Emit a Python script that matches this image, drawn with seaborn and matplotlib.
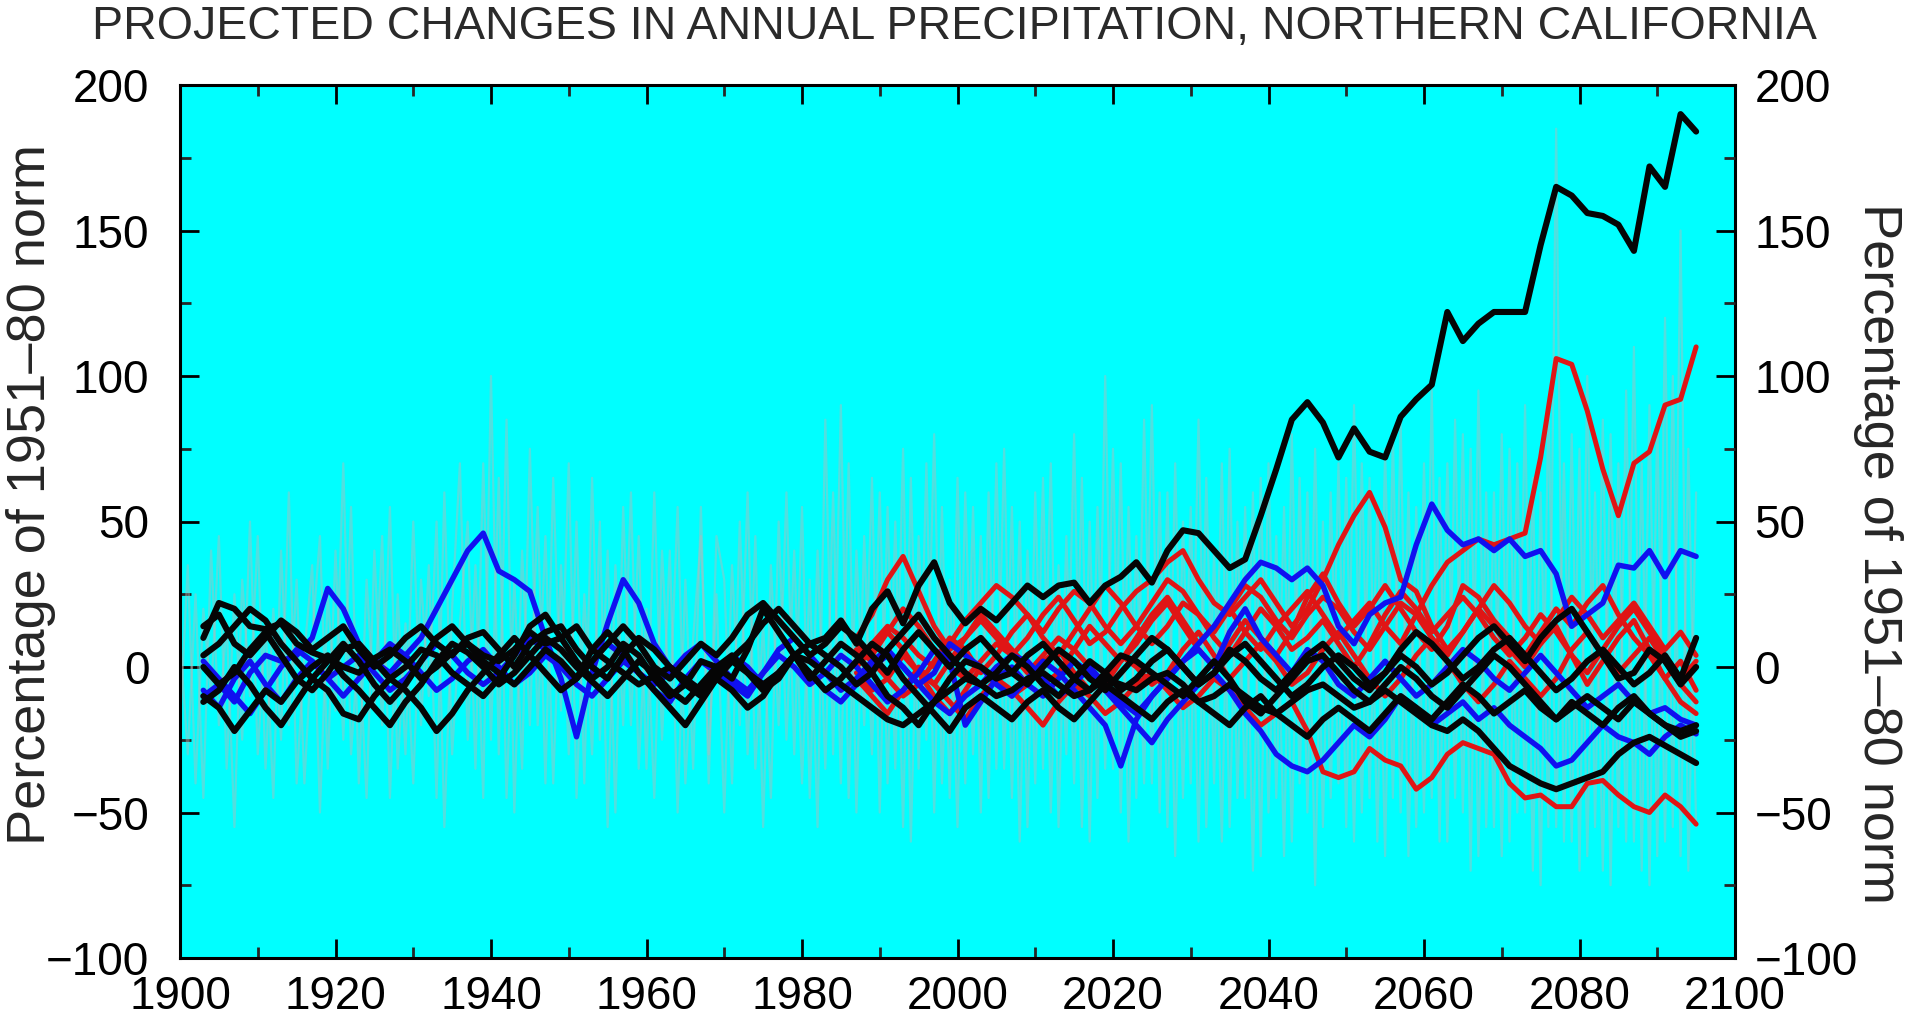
import numpy as np
import pandas as pd
import matplotlib
matplotlib.use("Agg")
import matplotlib.pyplot as plt
import seaborn as sns
from matplotlib.ticker import MultipleLocator

# ---------------- data ----------------
title = "PROJECTED CHANGES IN ANNUAL PRECIPITATION, NORTHERN CALIFORNIA"
ylabel = "Percentage of 1951\u201380 norm"

years_annual = list(range(1900, 2096))          # thin grey annual traces
years_hist = list(range(1903, 2096, 2))         # black / blue runs
years_proj = list(range(1987, 2096, 2))         # red runs

grey1 = [10, -30, 25, -45, 40, -20, 15, -55, 30, -10,
         45, -35, 20, -25, 60, -40, 5, 35, -50, 25,
         -15, 70, -30, 10, -45, 40, -20, 55, -35, 15,
         -40, 30, -10, 50, -55, 20, 70, -25, 35, -45,
         100, -30, 85, -50, 40, -20, 55, -40, 65, -15,
         70, -45, 25, -30, 50, -55, 35, -20, 60, -35,
         20, -45, 40, -15, 55, -40, 10, 45, -30, 25,
         -50, 35, -20, 60, -35, 15, -45, 50, -25, 40,
         -40, 30, -55, 85, -30, 90, -45, 40, -20, 65,
         -50, 55, -35, 75, -60, 45, -25, 80, -40, 30,
         -55, 60, -30, 45, -45, 70, -35, 55, -60, 40,
         -40, 65, -50, 35, -30, 80, -55, 50, -45, 100,
         -35, 70, -60, 45, -40, 90, -50, 60, -65, 50,
         -40, 85, -55, 40, -60, 75, -45, 55, -70, 65,
         -50, 45, -65, 80, -40, 60, -75, 50, -45, 70,
         -55, 90, -50, 65, -60, 75, -45, 85, -65, 55,
         -50, 95, -60, 70, -45, 80, -70, 95, -55, 60,
         -65, 75, -50, 90, -70, 60, -55, 185, -60, 80,
         -70, 100, -55, 85, -75, 70, -60, 110, -70, 90,
         -65, 120, -55, 150, -70, 60]
grey2 = [-20, 35, -40, 20, -10, 45, -35, 25, -25, 50,
         -30, 15, -45, 40, -20, 30, -40, 10, 45, -35,
         40, -25, 55, -40, 30, -15, 45, -45, 25, -30,
         50, -20, 35, -45, 60, -30, 15, 50, -35, 70,
         -25, 65, -45, 30, -35, 75, -20, 45, -40, 35,
         -30, 50, -40, 65, -25, 40, -50, 55, -20, 45,
         -35, 60, -25, 40, -50, 30, -35, 55, -40, 45,
         30, -40, 50, -30, 45, -55, 35, -20, 60, -30,
         55, -45, 40, -35, 60, -40, 70, -50, 45, -30,
         60, -40, 50, -55, 65, -35, 70, -50, 55, -45,
         65, -40, 55, -50, 60, -35, 75, -45, 50, -55,
         60, -35, 70, -55, 45, -40, 65, -60, 55, -35,
         75, -50, 55, -45, 85, -40, 60, -55, 70, -45,
         55, -60, 65, -40, 70, -55, 50, -45, 60, -65,
         70, -45, 55, -60, 65, -50, 75, -55, 60, -40,
         65, -60, 70, -45, 55, -65, 80, -50, 60, -55,
         70, -45, 65, -60, 85, -50, 75, -65, 60, -55,
         80, -60, 70, -50, 65, -75, 90, -55, 70, -60,
         75, -65, 60, -70, 80, -55, 95, -60, 70, -75,
         85, -60, 100, -65, 75, -55]

black1 = [10, 22, 20, 14, 13, 15, 8, 5, 3, 0,
          -2, 3, 6, 2, -4, 0, 5, 8, 4, 2,
          6, 12, 8, 10, 14, 6, 2, -2, -6, -3,
          0, -4, -8, -2, 3, 8, 15, 20, 14, 8,
          10, 16, 8, 20, 26, 15, 28, 36, 22, 15,
          20, 16, 22, 28, 24, 28, 29, 22, 28, 31,
          36, 29, 40, 47, 46, 40, 34, 37, 52, 68,
          85, 91, 84, 72, 82, 74, 72, 86, 92, 97,
          122, 112, 118, 122, 122, 122, 145, 165, 162, 156,
          155, 152, 143, 172, 165, 190, 184]
black2 = [-10, -14, -22, -15, -8, -12, -5, 0, 4, -3,
          -8, -14, -20, -12, -6, 2, 8, 5, 0, -6,
          -2, 4, 10, 6, 0, -5, -10, -4, 2, -2,
          -8, -12, -6, 0, 4, -2, -6, -2, 4, 2,
          -2, -6, -10, -14, -18, -20, -16, -12, -8, -4,
          -6, -10, -8, -4, -2, -6, -10, -8, -4, -6,
          -8, -4, -2, -6, -12, -10, -6, -10, -14, -16,
          -12, -8, -6, -10, -14, -12, -8, -12, -16, -20,
          -22, -18, -22, -28, -34, -37, -40, -42, -40, -38,
          -36, -30, -26, -24, -27, -30, -33]
black3 = [0, -6, -2, 6, 12, 4, -4, -8, -2, 6,
          8, 2, -4, 0, 6, 4, -2, -6, -10, -4,
          4, 14, 18, 10, 2, -4, 0, 8, 4, -4,
          -10, -6, 2, 0, -4, 6, 20, 12, 4, -4,
          2, 8, 4, -2, -10, -14, -20, -12, -4, 2,
          0, -4, -2, 4, 8, 2, -4, -8, -2, 4,
          2, -2, -6, -10, -4, 2, -4, -12, -16, -10,
          -4, 2, 4, -2, -8, -12, -6, 0, -4, -10,
          -14, -8, -2, 4, 0, -6, -12, -18, -14, -10,
          -14, -18, -12, -16, -20, -22, -20]
black4 = [14, 18, 8, 4, 10, 16, 12, 6, 10, 14,
          6, 0, 4, 10, 14, 8, 4, 10, 12, 6,
          0, 8, 12, 14, 6, 0, -4, 4, 10, 6,
          0, -6, -10, -4, 2, -2, -8, -4, 4, 8,
          4, 0, -6, -2, 6, 12, 18, 10, 4, -2,
          -6, -2, 4, 0, -6, -10, -4, 2, -2, -8,
          -4, 2, 6, 0, -6, -2, 4, 8, 2, -4,
          -10, -6, 0, 4, 0, -6, -2, 6, 12, 8,
          2, -4, 0, 6, 10, 4, -2, -8, -4, 2,
          6, 0, -6, -2, 4, -4, 10]
black5 = [-12, -8, 0, -6, -14, -20, -12, -4, -8, -16,
          -18, -10, -4, -8, -14, -22, -16, -8, -2, 4,
          10, 4, -2, -8, -4, 6, 12, 6, -2, -8,
          -14, -20, -12, -4, -8, -14, -10, -2, 4, -2,
          -8, -4, 2, 8, 4, -4, -10, -16, -22, -14,
          -10, -14, -18, -12, -8, -14, -18, -12, -6, -10,
          -14, -18, -12, -8, -12, -16, -20, -14, -10, -16,
          -20, -24, -18, -14, -18, -22, -16, -10, -14, -18,
          -12, -6, -10, -16, -12, -8, -14, -18, -12, -16,
          -20, -14, -10, -16, -20, -24, -22]
black6 = [4, 8, 14, 20, 16, 8, 2, -4, 2, 8,
          2, -6, -12, -6, 2, 10, 14, 8, 2, -2,
          -6, 0, 6, 2, -4, 2, 8, 14, 8, 0,
          -4, 2, 8, 4, 10, 18, 22, 16, 10, 4,
          8, 14, 10, 4, -2, 6, 12, 6, 0, 6,
          10, 4, -2, -6, 0, 6, 2, -4, -8, -2,
          4, 10, 6, 0, -6, -2, 6, 2, -4, -8,
          -2, 4, 8, 2, -4, -8, -2, 4, 0, -6,
          -2, 4, 10, 14, 8, 2, 10, 16, 20, 12,
          4, -4, -2, 6, 2, -6, 0]

blue1 = [-10, -6, -12, -2, 4, 2, 4, 10, 27, 20,
         8, 2, -2, 4, 10, 20, 30, 40, 46, 33,
         30, 26, 10, -4, -24, -2, 15, 30, 22, 8,
         0, -4, -8, -2, 4, 0, -6, -2, 4, -2,
         -8, -12, -6, 0, 4, 0, -6, -12, -16, -10,
         -6, 0, 4, 2, -4, -10, -6, 0, -6, -12,
         -16, -10, -4, 2, 8, 14, 22, 30, 36, 34,
         30, 34, 28, 14, 8, 18, 22, 24, 42, 56,
         47, 42, 44, 40, 44, 38, 40, 32, 14, 18,
         22, 35, 34, 40, 31, 40, 38]
blue2 = [-8, -14, -4, 2, -6, -12, -4, 2, -4, -10,
         -4, 2, 8, 4, -2, -8, -4, 2, 6, 0,
         -6, -2, 4, 0, -6, -10, -4, 2, -2, -8,
         -12, -4, 2, -2, -6, -10, -2, 4, 0, -6,
         -2, 4, 0, -6, -12, -8, -2, 6, 2, -20,
         -12, -4, 0, -6, -10, -4, 2, -2, -8, -14,
         -20, -26, -18, -12, -6, -2, -8, -16, -22, -30,
         -34, -36, -32, -26, -20, -24, -18, -10, -14, -20,
         -16, -12, -18, -14, -20, -24, -28, -34, -32, -26,
         -20, -24, -26, -30, -24, -20, -23]
blue3 = [2, -4, -10, -16, -8, 0, 6, 2, -4, 0,
         4, -2, -8, -4, 2, 8, 4, -2, -6, -2,
         4, 10, 6, 0, -4, 2, 8, 4, -2, -6,
         -2, 4, 8, 2, -4, -8, -2, 6, 10, 4,
         -2, -8, -4, 2, 6, 0, -6, -2, 8, 4,
         0, -6, -10, -4, 2, -2, -8, -14, -20, -34,
         -18, -10, -4, 2, 6, 0, 12, 20, 10, 4,
         -2, 6, 2, -6, -10, -4, 2, -4, -10, -6,
         0, 6, 2, -4, -8, -2, 4, -2, -8, -14,
         -10, -6, -12, -16, -14, -18, -20]

red1 = [8, 4, 12, 20, 14, 6, 0, -4, 2, 8,
        4, -2, 4, 10, 6, 0, -6, 2, 10, 18,
        24, 16, 8, 14, 20, 12, 6, 14, 20, 26,
        18, 10, 16, 22, 14, 8, 18, 28, 36, 40,
        44, 42, 44, 46, 72, 106, 104, 88, 68, 52,
        70, 74, 90, 92, 110]
red2 = [10, 18, 30, 38, 26, 14, 6, 10, 16, 10,
        4, 10, 18, 24, 16, 8, 12, 20, 26, 30,
        36, 40, 30, 22, 18, 24, 30, 22, 14, 20,
        30, 42, 52, 60, 48, 30, 26, 14, 6, 12,
        20, 14, 6, 0, 8, 14, 4, -6, 2, 10,
        16, 6, -4, 2, -8]
red3 = [-4, -10, -16, -8, 0, -6, -12, -18, -10, -4,
        -8, -14, -20, -12, -6, -10, -16, -12, -6, -2,
        -8, -14, -10, -4, -8, -14, -20, -16, -12, -22,
        -36, -38, -36, -28, -32, -34, -42, -38, -30, -26,
        -28, -30, -40, -45, -44, -48, -48, -40, -39, -44,
        -48, -50, -44, -48, -54]
red4 = [2, 8, 14, 10, 4, 0, 8, 16, 22, 28,
        24, 18, 12, 20, 26, 22, 14, 8, 14, 22,
        30, 26, 18, 12, 20, 28, 24, 16, 10, 18,
        24, 20, 12, 6, 14, 22, 18, 10, 4, 12,
        20, 28, 22, 14, 8, 16, 24, 18, 10, 16,
        22, 14, 6, 12, 4]
red5 = [-2, -8, -4, 4, -2, -10, -16, -8, 0, -4,
        -10, -6, 2, 6, -2, -8, -4, 4, 0, -6,
        -2, 6, 12, 4, -4, 2, 8, 2, -6, -2,
        6, 12, 4, -4, -10, -4, 4, 10, 2, -6,
        -12, -6, 2, -4, -10, -4, 6, 12, 4, -2,
        4, 10, 2, -6, -12]
red6 = [6, 2, -4, -10, -6, 2, 10, 6, -2, 4,
        12, 18, 10, 4, 12, 20, 28, 22, 14, 8,
        14, 22, 18, 10, 4, 12, 20, 14, 6, 10,
        16, 8, 0, 8, 18, 26, 20, 12, 18, 24,
        18, 10, 4, 10, 18, 12, 4, -2, 6, 14,
        20, 12, 4, -4, 2]
red7 = [0, 6, 12, 6, -2, -6, 2, 10, 18, 12,
        6, 0, -6, -2, 6, 14, 8, 2, 8, 16,
        22, 14, 6, 0, 8, 16, 10, 4, 12, 24,
        32, 22, 14, 20, 28, 20, 12, 6, 14, 28,
        24, 16, 10, 4, 12, 20, 14, 22, 28, 18,
        10, 4, -4, -12, -16]

x_ticks = [1900, 1920, 1940, 1960, 1980, 2000, 2020, 2040, 2060, 2080, 2100]
y_ticks = [-100, -50, 0, 50, 100, 150, 200]


def long_frame(years, runs, group):
    parts = []
    for name, vals in runs.items():
        parts.append(pd.DataFrame({"year": years, "value": vals, "run": name, "group": group}))
    return pd.concat(parts, ignore_index=True)


df_grey = long_frame(years_annual, {"g1": grey1, "g2": grey2}, "grey")
df_black = long_frame(years_hist, {"k1": black1, "k2": black2, "k3": black3,
                                   "k4": black4, "k5": black5, "k6": black6}, "black")
df_blue = long_frame(years_hist, {"b1": blue1, "b2": blue2, "b3": blue3}, "blue")
df_red = long_frame(years_proj, {"r1": red1, "r2": red2, "r3": red3, "r4": red4,
                                 "r5": red5, "r6": red6, "r7": red7}, "red")

# ---------------- style ----------------
sns.set_style("ticks")
plt.rcParams["font.family"] = ["Liberation Sans", "DejaVu Sans"]

fig = plt.figure(figsize=(19.09, 10.16), dpi=100)
ax = fig.add_axes([180 / 1909, 1 - 958 / 1016, 1555 / 1909, 873 / 1016])
ax.set_facecolor("#00ffff")

sns.lineplot(data=df_grey, x="year", y="value", units="run", estimator=None,
             color="#b8b8b8", alpha=0.45, lw=1.6, ax=ax, legend=False)
sns.lineplot(data=df_red, x="year", y="value", units="run", estimator=None,
             color="#e01515", lw=3.6, ax=ax, legend=False)
sns.lineplot(data=df_blue, x="year", y="value", units="run", estimator=None,
             color="#1010f0", lw=3.9, ax=ax, legend=False)
sns.lineplot(data=df_black, x="year", y="value", units="run", estimator=None,
             color="#050505", lw=4.4, ax=ax, legend=False)

ax.set_xlim(1900, 2100)
ax.set_ylim(-100, 200)
ax.set_xticks(x_ticks)
ax.set_yticks(y_ticks)
ax.xaxis.set_minor_locator(MultipleLocator(10))
ax.yaxis.set_minor_locator(MultipleLocator(25))
ax.set_xlabel("")
ax.set_ylabel(ylabel, fontsize=39, labelpad=0)
ax.yaxis.set_label_coords(-0.080, 0.531)

ax.tick_params(axis="both", which="major", direction="in", length=14, width=2,
               top=True, right=False, labelsize=33, colors="black")
ax.tick_params(axis="both", which="minor", direction="in", length=8, width=2,
               top=True, right=False)
ax.tick_params(axis="x", which="major", pad=12)
ax.tick_params(axis="y", which="major", pad=22)
for sp in ax.spines.values():
    sp.set_color("black")
    sp.set_linewidth(2.2)

ax2 = ax.twinx()
ax2.set_ylim(-100, 200)
ax2.set_yticks(y_ticks)
ax2.yaxis.set_minor_locator(MultipleLocator(25))
ax2.tick_params(axis="y", which="major", direction="in", length=14, width=2,
                labelsize=33, pad=14, colors="black")
ax2.tick_params(axis="y", which="minor", direction="in", length=8, width=2)
ax2.set_ylabel(ylabel, fontsize=39, rotation=270, va="center")
ax2.yaxis.set_label_coords(1.092, 0.463)
for sp in ax2.spines.values():
    sp.set_visible(False)

fig.suptitle(title, x=0.5, y=1 - 27 / 1016, va="center", fontsize=33.5, color="#2a2a2a")

fig.savefig("out.png", dpi=100, facecolor="white")
